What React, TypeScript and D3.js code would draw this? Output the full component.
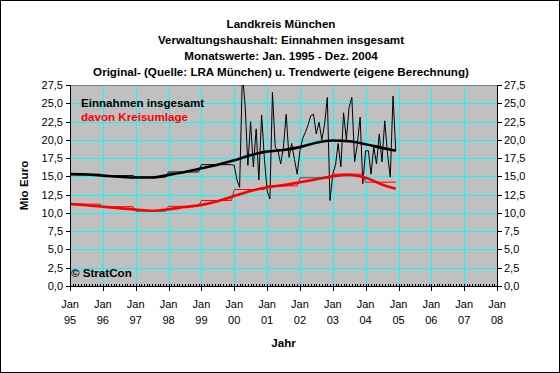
import React from "react";
import * as d3 from "d3";

const titel = [
    "Landkreis München",
    "Verwaltungshaushalt: Einnahmen insgesamt",
    "Monatswerte: Jan. 1995 - Dez. 2004",
    "Original- (Quelle: LRA München) u. Trendwerte (eigene Berechnung)"
];

// x-Achse: Jan jedes Jahres
const achsenJahre = [1995, 1996, 1997, 1998, 1999, 2000, 2001, 2002, 2003, 2004, 2005, 2006, 2007, 2008];
const yTicks = [0, 2.5, 5, 7.5, 10, 12.5, 15, 17.5, 20, 22.5, 25, 27.5];

// Einnahmen insgesamt, Original: 1995-1999 nur Jahreswerte (je Monat gleich)
const einnahmenJahre = [1995, 1996, 1997, 1998, 1999];
const einnahmenJahreswerte = [15.3, 15.1, 14.9, 15.6, 16.6];

// Einnahmen insgesamt, Original: Monatswerte Jan. 2000 - Dez. 2004
const einnahmenMonate = [
    16.5, 14.5, 13.5, 29.0, 24.8, 16.5, 22.5, 16.3, 21.5, 14.5, 23.4, 17.5,
    13.0, 11.9, 26.5, 19.0, 18.5, 16.7, 19.0, 23.5, 17.6, 19.5, 17.3, 15.3,
    18.5, 20.2, 21.0, 22.0, 23.3, 23.5, 20.8, 22.4, 20.0, 22.0, 25.8, 11.7,
    15.3, 16.6, 19.5, 16.3, 23.7, 20.0, 24.4, 25.8, 17.0, 19.4, 23.1, 14.0,
    18.5, 18.5, 15.3, 19.0, 16.7, 20.8, 17.0, 22.6, 18.0, 14.9, 26.0, 18.5
];

// davon Kreisumlage, Original: Jahreswerte (je Monat gleich)
const kreisumlageJahre = [1995, 1996, 1997, 1998, 1999, 2000, 2001, 2002, 2003, 2004];
const kreisumlageJahreswerte = [11.2, 10.85, 10.25, 10.9, 11.7, 13.2, 13.7, 14.8, 15.3, 14.2];

// Trendwerte (eigene Berechnung)
const trendMonate = [
    "1995-01", "1995-07", "1996-01", "1996-07", "1997-01", "1997-07", "1998-01", "1998-07",
    "1999-01", "1999-07", "2000-01", "2000-07", "2001-01", "2001-07", "2002-01", "2002-07",
    "2003-01", "2003-07", "2004-01", "2004-07", "2004-12"
];
const trendEinnahmen = [
    15.3, 15.25, 15.1, 14.95, 14.85, 14.85, 15.2, 15.6, 16.1, 16.6, 17.2, 17.9,
    18.4, 18.6, 19.0, 19.6, 19.9, 19.8, 19.4, 18.9, 18.5
];
const trendKreisumlage = [
    11.2, 11.05, 10.85, 10.65, 10.45, 10.3, 10.5, 10.8, 11.1, 11.6, 12.3, 13.0,
    13.5, 13.8, 14.2, 14.6, 15.0, 15.2, 14.8, 13.9, 13.3
];

const parseMonat = d3.timeParse("%Y-%m");
const deFormat = d3.formatLocale({
    decimal: ",",
    thousands: ".",
    grouping: [3],
    currency: ["", " €"]
}).format(".1f");

const font = "'Liberation Sans', Arial, sans-serif";
const boldSize = 11.6;

const App = () => {
    const layout = { width: 560, height: 373 };
    const plot = { left: 70, right: 497, top: 85, bottom: 286 };

    const xScale = d3
        .scaleTime()
        .domain([new Date(1995, 0, 1), new Date(2008, 0, 1)])
        .range([plot.left, plot.right]);
    const yScale = d3.scaleLinear().domain([0, 27.5]).range([plot.bottom, plot.top]);

    const px = v => Math.round(v) + 0.5;

    // Jahreswerte als Jan..Dez-Strecken
    const jahresPunkte = (jahre, werte) =>
        jahre.flatMap((j, i) => [
            { date: new Date(j, 0, 1), value: werte[i] },
            { date: new Date(j, 11, 1), value: werte[i] }
        ]);

    const einnahmenOriginal = [
        ...jahresPunkte(einnahmenJahre, einnahmenJahreswerte),
        ...einnahmenMonate.map((v, i) => ({ date: new Date(2000, i, 1), value: v }))
    ];
    const kreisumlageOriginal = jahresPunkte(kreisumlageJahre, kreisumlageJahreswerte);

    const trendE = trendMonate.map((m, i) => ({ date: parseMonat(m), value: trendEinnahmen[i] }));
    const trendK = trendMonate.map((m, i) => ({ date: parseMonat(m), value: trendKreisumlage[i] }));

    const lineGenerator = d3
        .line()
        .x(d => xScale(d.date))
        .y(d => yScale(d.value));
    const trendGenerator = d3
        .line()
        .x(d => xScale(d.date))
        .y(d => yScale(d.value))
        .curve(d3.curveMonotoneX);

    const monate = d3.timeMonth.range(new Date(1995, 0, 1), new Date(2008, 0, 1));

    const verticalGrid = achsenJahre.slice(1, -1).map(j => (
        <line
            key={`v${j}`}
            x1={px(xScale(new Date(j, 0, 1)))}
            x2={px(xScale(new Date(j, 0, 1)))}
            y1={plot.top}
            y2={plot.bottom}
            stroke="#00ffff"
        />
    ));

    const horizontalGrid = yTicks.slice(1, -1).map(v => (
        <line
            key={`h${v}`}
            x1={plot.left}
            x2={plot.right}
            y1={px(yScale(v))}
            y2={px(yScale(v))}
            stroke="#00ffff"
        />
    ));

    return (
        <svg
            width={layout.width}
            height={layout.height}
            style={{ position: "absolute", left: 0, top: 0, fontFamily: font }}
        >
            <style>{"body{margin:0}"}</style>
            <defs>
                <clipPath id="plotClip">
                    <rect
                        x={plot.left}
                        y={plot.top}
                        width={plot.right - plot.left}
                        height={plot.bottom - plot.top}
                    />
                </clipPath>
            </defs>
            <rect x={0.5} y={0.5} width={559} height={372} fill="#ffffff" stroke="#000000" />

            {titel.map((t, i) => (
                <text
                    key={t}
                    x={281}
                    y={28 + i * 16}
                    textAnchor="middle"
                    fontSize={boldSize}
                    fontWeight="bold"
                >
                    {t}
                </text>
            ))}

            <rect
                x={plot.left}
                y={plot.top}
                width={plot.right - plot.left}
                height={plot.bottom - plot.top}
                fill="#c0c0c0"
            />
            <g shapeRendering="crispEdges">
                {verticalGrid}
                {horizontalGrid}
                <line
                    x1={plot.left}
                    x2={plot.right}
                    y1={px(plot.top)}
                    y2={px(plot.top)}
                    stroke="#808080"
                />
            </g>

            <g clipPath="url(#plotClip)" fill="none" strokeLinejoin="round">
                <path d={lineGenerator(einnahmenOriginal)} stroke="#000000" strokeWidth={1} />
                <path d={trendGenerator(trendE)} stroke="#000000" strokeWidth={2.6} />
                <path d={lineGenerator(kreisumlageOriginal)} stroke="#ff0000" strokeWidth={1} />
                <path d={trendGenerator(trendK)} stroke="#ff0000" strokeWidth={2.6} />
            </g>

            <g shapeRendering="crispEdges" stroke="#000000">
                <line x1={px(plot.left)} x2={px(plot.left)} y1={plot.top} y2={plot.bottom + 1} />
                <line x1={px(plot.right)} x2={px(plot.right)} y1={plot.top} y2={plot.bottom + 1} />
                <line x1={plot.left} x2={plot.right + 1} y1={px(plot.bottom)} y2={px(plot.bottom)} />
                {yTicks.map(v => (
                    <g key={`t${v}`}>
                        <line x1={plot.left - 4} x2={plot.left} y1={px(yScale(v))} y2={px(yScale(v))} />
                        <line x1={plot.right} x2={plot.right + 5} y1={px(yScale(v))} y2={px(yScale(v))} />
                    </g>
                ))}
                {monate.map(m => (
                    <line
                        key={`m${+m}`}
                        x1={px(xScale(m))}
                        x2={px(xScale(m))}
                        y1={plot.bottom - 2}
                        y2={plot.bottom}
                    />
                ))}
                {achsenJahre.map(j => (
                    <line
                        key={`x${j}`}
                        x1={px(xScale(new Date(j, 0, 1)))}
                        x2={px(xScale(new Date(j, 0, 1)))}
                        y1={plot.bottom}
                        y2={plot.bottom + 5}
                    />
                ))}
            </g>

            <g fontSize={11} fill="#000000">
                {yTicks.map(v => (
                    <g key={`l${v}`}>
                        <text x={63} y={yScale(v) + 4} textAnchor="end">
                            {deFormat(v)}
                        </text>
                        <text x={504} y={yScale(v) + 4}>
                            {deFormat(v)}
                        </text>
                    </g>
                ))}
                {achsenJahre.map(j => (
                    <g key={`j${j}`}>
                        <text x={xScale(new Date(j, 0, 1))} y={308} textAnchor="middle">
                            Jan
                        </text>
                        <text x={xScale(new Date(j, 0, 1))} y={324} textAnchor="middle">
                            {String(j).slice(2)}
                        </text>
                    </g>
                ))}
            </g>

            <text x={plot.left + (plot.right - plot.left) / 2} y={347} textAnchor="middle" fontSize={boldSize} fontWeight="bold">
                Jahr
            </text>
            <text
                transform={`translate(28, ${(plot.top + plot.bottom) / 2}) rotate(-90)`}
                textAnchor="middle"
                fontSize={boldSize}
                fontWeight="bold"
            >
                Mio Euro
            </text>

            <text x={81} y={106.5} fontSize={boldSize} fontWeight="bold" fill="#000000">
                Einnahmen insgesamt
            </text>
            <text x={81} y={120.5} fontSize={boldSize} fontWeight="bold" fill="#ff0000">
                davon Kreisumlage
            </text>
            <text x={71} y={276.5} fontSize={boldSize} fontWeight="bold" fill="#000000">
                © StratCon
            </text>
        </svg>
    );
};

export default App;
